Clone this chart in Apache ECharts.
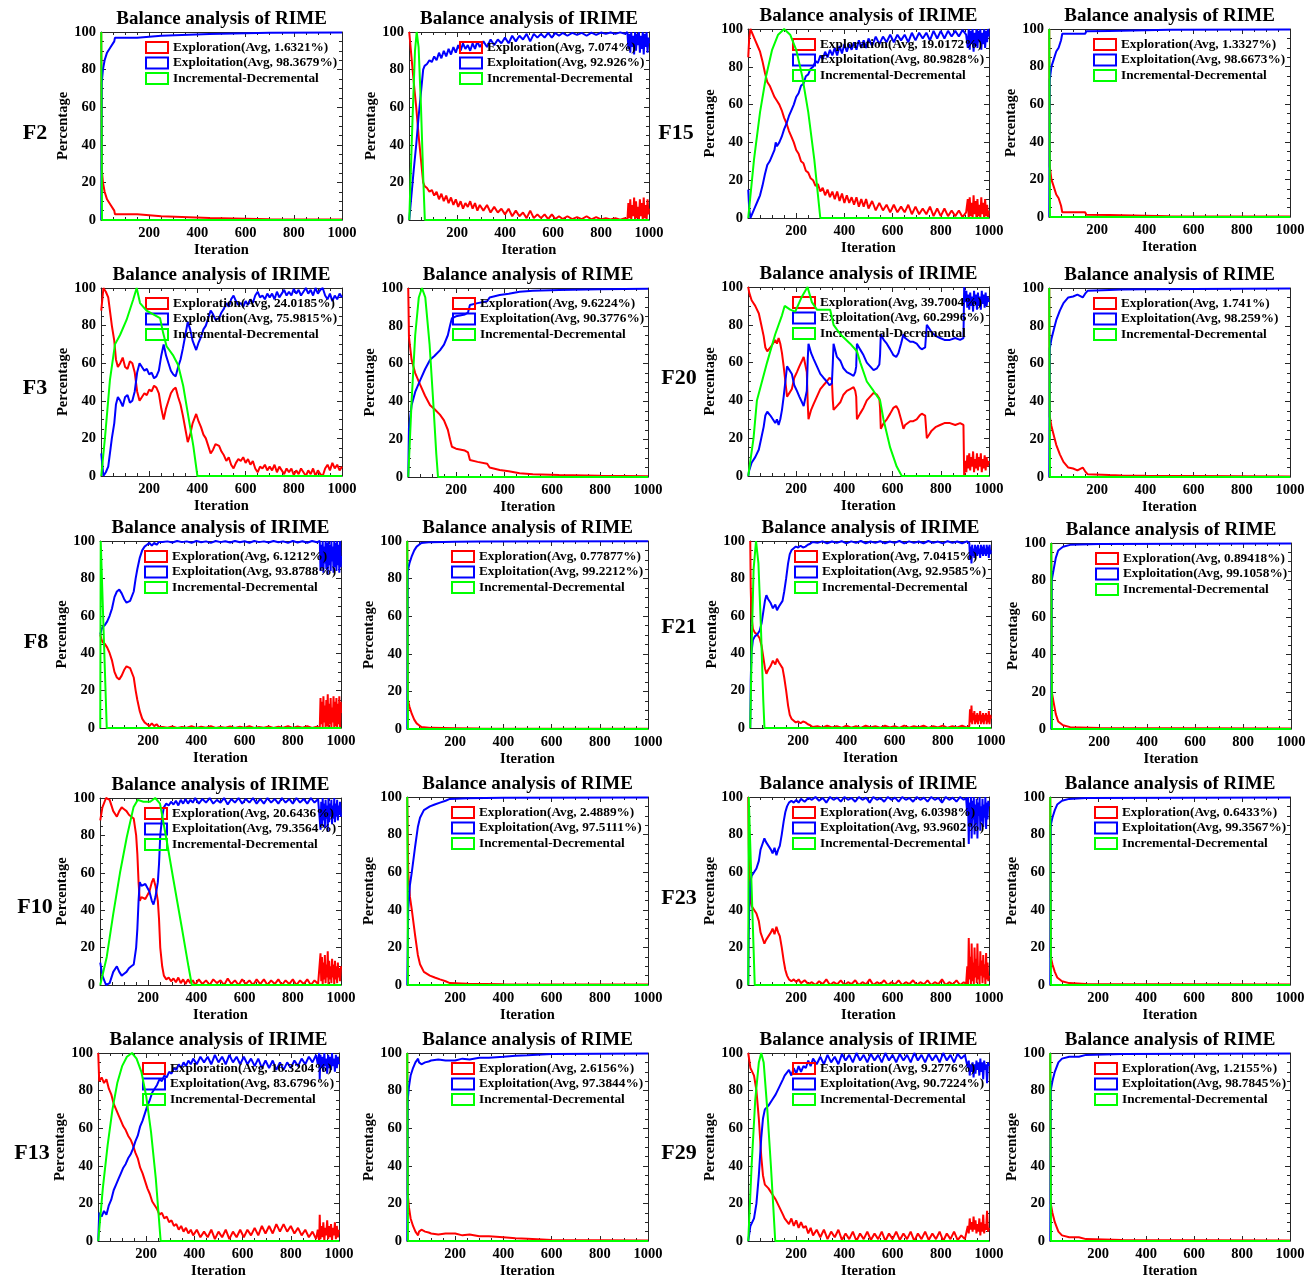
<!DOCTYPE html>
<html>
<head>
<meta charset="utf-8">
<title>Balance analysis of RIME / IRIME</title>
<script src="https://cdn.jsdelivr.net/npm/echarts@6/dist/echarts.min.js"></script>
<style>
  html, body { margin: 0; padding: 0; background: #fff; }
  #balance-chart { width: 1314px; height: 1280px; }
</style>
</head>
<body>
<div id="balance-chart"></div>
<script>
// ---- data: [iteration, percentage] ----
const xTickLabels = [200, 400, 600, 800, 1000]
const yTickLabels = [0, 20, 40, 60, 80, 100]

// panel order: row by row, left to right
const panelFunc = ['F2', 'F2', 'F15', 'F15', 'F3', 'F3', 'F20', 'F20', 'F8', 'F8', 'F21', 'F21', 'F10', 'F10', 'F23', 'F23', 'F13', 'F13', 'F29', 'F29']
const panelAlgo = ['RIME', 'IRIME', 'IRIME', 'RIME', 'IRIME', 'RIME', 'IRIME', 'RIME', 'IRIME', 'RIME', 'IRIME', 'RIME', 'IRIME', 'RIME', 'IRIME', 'RIME', 'IRIME', 'RIME', 'IRIME', 'RIME']
const avgExploration = ['1.6321', '7.074', '19.0172', '1.3327', '24.0185', '9.6224', '39.7004', '1.741', '6.1212', '0.77877', '7.0415', '0.89418', '20.6436', '2.4889', '6.0398', '0.6433', '16.3204', '2.6156', '9.2776', '1.2155']
const avgExploitation = ['98.3679', '92.926', '80.9828', '98.6673', '75.9815', '90.3776', '60.2996', '98.259', '93.8788', '99.2212', '92.9585', '99.1058', '79.3564', '97.5111', '93.9602', '99.3567', '83.6796', '97.3844', '90.7224', '98.7845']

// F2 RIME
const f2RimeXpl = [[1,100],[3,27],[8,20],[15,15],[25,11],[40,8],[55,5],[58,3],[150,3],[153,2],[250,2],[253,1.2],[450,1],[455,0.6],[700,0.4],[1000,0.2]]
const f2RimeXpt = [[1,0],[3,73],[8,80],[15,85],[25,89],[40,92],[55,95],[58,97],[150,97],[153,98],[250,98],[253,98.8],[450,99],[455,99.4],[700,99.6],[1000,99.8]]
const f2RimeInc = [[1,100],[4,0],[1000,0]]

// F2 IRIME
const f2IrimeXpl = [[1,100],[10,87],[20,73],[30,60],[40,45],[50,32],[59,20],[65,18],[75,17],[85,15],[95,16],[105,13],[115,15],[125,11],[135,14],[145,10],[155,13],[165,9],[175,12],[185,8],[195,11],[205,7],[215,10],[225,6],[235,9],[245,7],[255,10],[265,6],[275,9],[285,5],[295,8],[310,5],[325,8],[340,4],[355,7],[370,4],[385,6],[400,3],[415,6],[430,2],[445,5],[460,2],[475,4],[490,1],[505,5],[520,1],[535,3],[550,1],[565,3],[580,0.5],[595,3],[610,0.5],[625,2],[640,0.5],[660,2],[680,0.5],[700,1.5],[720,0.5],[740,2],[760,0.3],[780,1.5],[800,0.3],[820,1],[840,0.3],[860,1],[880,0.2],[900,1],[910,0],[914,9],[918,1],[922,11],[926,0],[930,8],[934,2],[938,12],[942,0],[946,10],[950,1],[954,7],[958,0],[962,11],[966,2],[970,9],[974,0],[978,12],[982,1],[986,8],[990,0],[994,11],[998,3],[1000,6]]
const f2IrimeXpt = [[1,0],[10,13],[20,27],[30,40],[40,55],[50,68],[59,80],[65,82],[75,83],[85,85],[95,84],[105,87],[115,85],[125,89],[135,86],[145,90],[155,87],[165,91],[175,88],[185,92],[195,89],[205,93],[215,90],[225,94],[235,91],[245,93],[255,90],[265,94],[275,91],[285,95],[295,92],[310,95],[325,92],[340,96],[355,93],[370,96],[385,94],[400,97],[415,94],[430,98],[445,95],[460,98],[475,96],[490,99],[505,95],[520,99],[535,97],[550,99],[565,97],[580,99.5],[595,97],[610,99.5],[625,98],[640,99.5],[660,98],[680,99.5],[700,98.5],[720,99.5],[740,98],[760,99.7],[780,98.5],[800,99.7],[820,99],[840,99.7],[860,99],[880,99.8],[900,99],[910,100],[914,91],[918,99],[922,89],[926,100],[930,92],[934,98],[938,88],[942,100],[946,90],[950,99],[954,93],[958,100],[962,89],[966,98],[970,91],[974,100],[978,88],[982,99],[986,92],[990,100],[994,89],[998,97],[1000,94]]
const f2IrimeInc = [[1,0],[15,55],[25,90],[32,100],[40,92],[50,60],[60,20],[66,0],[1000,0]]

// F15 IRIME
const f15IrimeXpl = [[1,85],[5,95],[10,100],[20,97],[30,94],[40,91],[50,88],[60,83],[70,77],[80,72],[90,70],[100,67],[110,64],[120,62],[130,60],[140,57],[150,53],[160,50],[170,46],[180,43],[190,40],[200,36],[210,34],[220,30],[230,29],[240,25],[250,24],[260,21],[270,20],[280,17],[290,18],[300,14],[310,16],[320,12],[330,15],[340,11],[350,14],[360,10],[370,14],[380,9],[390,13],[400,8],[410,12],[420,8],[430,11],[440,7],[450,11],[460,6],[470,10],[480,6],[490,10],[500,5],[515,9],[530,4],[545,8],[560,4],[575,7],[590,3],[605,7],[620,3],[635,6],[650,3],[665,7],[680,2],[695,6],[710,2],[725,5],[740,2],[755,6],[770,1],[785,5],[800,1],[815,5],[830,1],[845,4],[860,1],[875,4],[890,0.5],[905,3],[912,10],[916,0],[920,11],[924,1],[928,8],[932,0],[936,12],[940,2],[944,9],[948,0],[952,10],[956,1],[960,7],[964,0],[968,11],[972,2],[976,8],[980,0],[984,10],[988,1],[992,7],[996,0],[1000,4]]
const f15IrimeXpt = [[1,15],[5,5],[10,0],[20,3],[30,6],[40,9],[50,12],[60,17],[70,23],[80,28],[90,30],[100,33],[110,36],[115,40],[120,38],[130,40],[140,43],[150,47],[160,50],[170,54],[180,57],[190,60],[200,64],[210,66],[220,70],[230,71],[240,75],[250,76],[260,79],[270,80],[280,83],[290,82],[300,86],[310,84],[320,88],[330,85],[340,89],[350,86],[360,90],[370,86],[380,91],[390,87],[400,92],[410,88],[420,92],[430,89],[440,93],[450,89],[460,94],[470,90],[480,94],[490,90],[500,95],[515,91],[530,96],[545,92],[560,96],[575,93],[590,97],[605,93],[620,97],[635,94],[650,97],[665,93],[680,98],[695,94],[710,98],[725,95],[740,98],[755,94],[770,99],[785,95],[800,99],[815,95],[830,99],[845,96],[860,99],[875,96],[890,99.5],[905,97],[912,90],[916,100],[920,89],[924,99],[928,92],[932,100],[936,88],[940,98],[944,91],[948,100],[952,90],[956,99],[960,93],[964,100],[968,89],[972,98],[976,92],[980,100],[984,90],[988,99],[992,93],[996,100],[1000,96]]
const f15IrimeInc = [[1,0],[25,31],[50,56],[75,75],[100,89],[125,97],[150,100],[175,97],[200,89],[225,75],[250,56],[275,31],[300,0],[1000,0]]

// F15 RIME
const f15RimeXpl = [[1,100],[3,27],[10,20],[20,16],[30,12],[40,10],[50,6],[55,2.5],[100,2.5],[150,2.5],[155,1.2],[250,1],[255,0.5],[500,0.4],[1000,0.2]]
const f15RimeXpt = [[1,0],[3,73],[10,80],[20,84],[30,88],[40,90],[50,94],[55,97.5],[100,97.5],[150,97.5],[155,98.8],[250,99],[255,99.5],[500,99.6],[1000,99.8]]
const f15RimeInc = [[1,100],[4,0],[1000,0]]

// F3 IRIME
const f3IrimeXpl = [[1,88],[10,100],[20,98],[30,95],[40,85],[45,80],[55,72],[62,62],[70,58],[80,60],[90,63],[100,58],[110,57],[120,61],[130,60],[140,55],[150,45],[160,40],[170,42],[180,44],[190,43],[200,46],[210,45],[220,48],[230,47],[240,44],[250,36],[260,30],[270,36],[280,40],[290,44],[300,46],[310,47],[320,42],[330,38],[340,32],[350,25],[360,18],[370,22],[380,28],[395,33],[405,29],[415,26],[425,22],[435,20],[445,16],[455,12],[465,14],[475,17],[490,16],[500,13],[510,11],[520,8],[530,10],[540,6],[550,4],[560,7],[570,9],[580,8],[590,10],[600,7],[610,9],[620,6],[630,8],[640,4],[650,2],[660,5],[670,4],[680,6],[690,3],[700,5],[710,3],[720,6],[730,2],[740,5],[750,3],[760,1],[770,4],[780,2],[790,4],[800,0.5],[810,3],[820,1],[830,4],[840,2],[850,0],[860,3],[870,1],[880,4],[890,0],[900,3],[910,1],[920,0],[930,4],[940,6],[950,3],[960,7],[970,4],[980,6],[990,3],[1000,5]]
const f3IrimeXpt = [[1,12],[10,0],[20,2],[30,5],[40,15],[45,20],[55,28],[62,38],[70,42],[80,40],[90,37],[100,42],[110,43],[120,39],[130,40],[140,45],[150,55],[160,60],[170,58],[180,56],[190,57],[200,54],[210,55],[220,52],[230,53],[240,56],[250,64],[260,70],[270,64],[280,60],[290,56],[300,54],[310,53],[320,58],[330,62],[340,68],[350,75],[360,82],[370,78],[380,72],[395,67],[405,71],[415,74],[425,78],[435,80],[445,84],[455,88],[465,86],[475,83],[490,84],[500,87],[510,89],[520,92],[530,90],[540,94],[550,96],[560,93],[570,91],[580,92],[590,90],[600,93],[610,91],[620,94],[630,92],[640,96],[650,98],[660,95],[670,96],[680,94],[690,97],[700,95],[710,97],[720,94],[730,98],[740,95],[750,97],[760,99],[770,96],[780,98],[790,96],[800,99.5],[810,97],[820,99],[830,96],[840,98],[850,100],[860,97],[870,99],[880,96],[890,100],[900,97],[910,99],[920,100],[930,96],[940,94],[950,97],[960,93],[970,96],[980,94],[990,97],[1000,95]]
const f3IrimeInc = [[1,0],[17,21],[37,51],[58,70],[79,75],[106,83],[134,94],[148,100],[162,92],[189,88],[245,84],[258,76],[272,69],[300,64],[320,59],[341,48],[362,32],[383,16],[400,0],[1000,0]]

// F3 RIME
const f3RimeXpl = [[1,100],[4,74],[15,62],[30,55],[50,49],[71,43],[92,38],[110,36],[133,33],[150,30],[166,25],[175,20],[183,16],[200,15],[237,14],[250,13],[258,9],[290,8],[330,7],[340,5],[382,3.7],[420,3],[465,2],[520,1.5],[630,1],[800,0.6],[1000,0.4]]
const f3RimeXpt = [[1,0],[4,26],[15,38],[30,45],[50,51],[71,57],[92,62],[110,64],[133,67],[150,70],[166,75],[175,80],[183,84],[200,85],[237,86],[250,87],[258,91],[290,92],[330,93],[340,95],[382,96.3],[420,97],[465,98],[520,98.5],[630,99],[800,99.4],[1000,99.6]]
const f3RimeInc = [[1,0],[15,40],[30,75],[45,95],[58,100],[72,95],[90,70],[105,40],[118,12],[125,0],[1000,0]]

// F20 IRIME
const f20IrimeXpl = [[1,100],[5,97],[15,93],[30,90],[45,86],[55,80],[65,74],[72,68],[80,66],[93,68],[103,70],[113,72],[120,70],[127,73],[134,70],[141,65],[148,58],[155,50],[162,42],[172,44],[182,46],[192,52],[203,55],[213,58],[224,61],[231,63],[238,62],[244,55],[248,38],[251,30],[262,35],[272,38],[286,42],[300,46],[313,48],[327,50],[338,52],[348,51],[352,40],[355,35],[369,37],[383,39],[396,43],[410,45],[424,46],[438,47],[445,45],[449,42],[452,30],[465,33],[479,36],[493,40],[507,42],[521,44],[535,43],[545,41],[548,36],[551,25],[563,28],[576,30],[590,33],[603,36],[615,37],[624,35],[635,30],[645,25],[652,27],[660,28],[673,29],[686,29],[700,30],[712,32],[721,33],[735,32],[742,20],[752,22],[762,24],[780,26],[797,27],[815,28],[838,28],[860,27],[880,28],[894,27],[897,0],[902,8],[906,2],[910,11],[914,4],[918,12],[922,3],[926,10],[930,5],[934,13],[938,2],[942,9],[946,4],[950,12],[954,3],[958,10],[962,5],[966,12],[970,2],[974,9],[978,4],[982,11],[986,3],[990,10],[994,5],[1000,8]]
const f20IrimeXpt = [[1,0],[5,3],[15,7],[30,10],[45,14],[55,20],[65,26],[72,32],[80,34],[93,32],[103,30],[113,28],[120,30],[127,27],[134,30],[141,35],[148,42],[155,50],[162,58],[172,56],[182,54],[192,48],[203,45],[213,42],[224,39],[231,37],[238,38],[244,45],[248,62],[251,70],[262,65],[272,62],[286,58],[300,54],[313,52],[327,50],[338,48],[348,49],[352,60],[355,70],[369,63],[383,61],[396,57],[410,55],[424,54],[438,53],[445,55],[449,58],[452,70],[465,67],[479,64],[493,60],[507,58],[521,56],[535,57],[545,59],[548,64],[551,75],[563,72],[576,70],[590,67],[603,64],[615,63],[624,65],[635,70],[645,75],[652,73],[660,72],[673,71],[686,71],[700,70],[712,68],[721,67],[735,68],[742,80],[752,78],[762,76],[780,74],[797,73],[815,72],[838,72],[860,73],[880,72],[894,73],[897,100],[902,92],[906,98],[910,89],[914,96],[918,88],[922,97],[926,90],[930,95],[934,87],[938,98],[942,91],[946,96],[950,88],[954,97],[958,90],[962,95],[966,88],[970,98],[974,91],[978,96],[982,89],[986,97],[990,90],[994,95],[1000,92]]
const f20IrimeInc = [[1,0],[23,20],[37,40],[58,50],[79,60],[113,75],[141,85],[152,90],[175,88],[196,87],[224,95],[247,100],[265,92],[286,88],[341,88],[355,80],[383,75],[424,70],[452,66],[466,60],[493,50],[521,45],[548,40],[562,30],[590,15],[617,5],[638,0],[1000,0]]

// F20 RIME
const f20RimeXpl = [[1,100],[3,32],[10,27],[20,22],[30,17],[45,12],[60,8],[80,5],[100,4.5],[118,3.5],[125,4.5],[140,5],[150,3],[160,1.5],[250,1],[300,0.8],[400,0.6],[1000,0.3]]
const f20RimeXpt = [[1,0],[3,68],[10,73],[20,78],[30,83],[45,88],[60,92],[80,95],[100,95.5],[118,96.5],[125,95.5],[140,95],[150,97],[160,98.5],[250,99],[300,99.2],[400,99.4],[1000,99.7]]
const f20RimeInc = [[1,100],[4,0],[1000,0]]

// F8 IRIME
const f8IrimeXpl = [[1,50],[5,48],[10,46],[20,45],[30,43],[40,40],[50,36],[60,30],[70,27],[80,26],[90,28],[100,31],[110,33],[118,34],[125,32],[132,31],[140,27],[148,20],[155,15],[165,9],[175,5],[185,3],[195,2],[205,1],[215,2.5],[225,1],[235,2],[245,0.5],[260,0.5],[280,0.2],[300,0.8],[320,0],[340,0.6],[360,0.2],[380,0.9],[400,0],[420,0.7],[440,0.2],[460,1],[480,0],[500,0.6],[520,0.1],[540,0.8],[560,0],[580,0.7],[600,0.1],[620,0.9],[640,0],[660,0.6],[680,0.2],[700,0.8],[720,0],[740,0.7],[760,0.2],[780,1],[800,0],[820,0.8],[840,0.1],[860,0.9],[880,0],[900,0.7],[912,0],[915,16],[918,2],[921,14],[924,0],[927,17],[930,3],[933,12],[936,0],[939,15],[942,1],[945,18],[948,0],[951,13],[954,2],[957,16],[960,0],[963,11],[966,3],[969,17],[972,0],[975,14],[978,1],[981,16],[984,0],[987,13],[990,2],[993,17],[996,0],[999,14],[1000,8]]
const f8IrimeXpt = [[1,50],[5,52],[10,54],[20,55],[30,57],[40,60],[50,64],[60,70],[70,73],[80,74],[90,72],[100,69],[110,67],[118,66],[125,68],[132,69],[140,73],[148,80],[155,85],[165,91],[175,95],[185,97],[195,98],[205,99],[215,97.5],[225,99],[235,98],[245,99.5],[260,99.5],[280,99.8],[300,99.2],[320,100],[340,99.4],[360,99.8],[380,99.1],[400,100],[420,99.3],[440,99.8],[460,99],[480,100],[500,99.4],[520,99.9],[540,99.2],[560,100],[580,99.3],[600,99.9],[620,99.1],[640,100],[660,99.4],[680,99.8],[700,99.2],[720,100],[740,99.3],[760,99.8],[780,99],[800,100],[820,99.2],[840,99.9],[860,99.1],[880,100],[900,99.3],[912,100],[915,84],[918,98],[921,86],[924,100],[927,83],[930,97],[933,88],[936,100],[939,85],[942,99],[945,82],[948,100],[951,87],[954,98],[957,84],[960,100],[963,89],[966,97],[969,83],[972,100],[975,86],[978,99],[981,84],[984,100],[987,87],[990,98],[993,83],[996,100],[999,86],[1000,92]]
const f8IrimeInc = [[1,0],[3,100],[28,0],[1000,0]]

// F8 RIME
const f8RimeXpl = [[1,100],[3,16],[10,12],[20,8],[30,5],[40,3],[50,2],[60,1],[100,0.6],[200,0.4],[300,0.2],[1000,0.1]]
const f8RimeXpt = [[1,0],[3,84],[10,88],[20,92],[30,95],[40,97],[50,98],[60,99],[100,99.4],[200,99.6],[300,99.8],[1000,99.9]]
const f8RimeInc = [[1,100],[4,0],[1000,0]]

// F21 IRIME
const f21IrimeXpl = [[1,100],[3,75],[6,60],[12,53],[20,51],[30,50],[40,48],[48,44],[55,38],[62,32],[68,29],[75,31],[85,33],[95,36],[105,34],[112,37],[120,35],[128,36],[135,32],[142,27],[150,20],[158,12],[165,7],[172,5],[180,4],[190,3],[200,3.5],[210,2.5],[220,3.5],[230,3],[240,2],[250,1.5],[260,0.5],[280,1],[300,0.2],[320,1.2],[340,0.3],[360,1],[380,0.1],[400,1.3],[420,0.2],[440,1],[460,0],[480,1.2],[500,0.3],[520,1],[540,0.1],[560,1.2],[580,0.3],[600,1],[620,0],[640,1.3],[660,0.2],[680,1],[700,0.3],[720,1.2],[740,0],[760,1],[780,0.3],[800,1.3],[820,0.1],[840,1],[860,0.3],[880,1.2],[900,0.2],[910,1],[913,10],[916,3],[919,12],[922,2],[925,8],[928,4],[931,9],[934,2],[937,7],[940,3],[943,8],[946,2],[949,7],[952,4],[955,9],[958,2],[961,7],[964,3],[967,8],[970,2],[973,7],[976,4],[979,8],[982,2],[985,7],[988,3],[991,9],[994,2],[997,7],[1000,5]]
const f21IrimeXpt = [[1,0],[3,25],[6,40],[12,47],[20,49],[30,50],[40,52],[48,56],[55,62],[62,68],[68,71],[75,69],[85,67],[95,64],[105,66],[112,63],[120,65],[128,64],[135,68],[142,73],[150,80],[158,88],[165,93],[172,95],[180,96],[190,97],[200,96.5],[210,97.5],[220,96.5],[230,97],[240,98],[250,98.5],[260,99.5],[280,99],[300,99.8],[320,98.8],[340,99.7],[360,99],[380,99.9],[400,98.7],[420,99.8],[440,99],[460,100],[480,98.8],[500,99.7],[520,99],[540,99.9],[560,98.8],[580,99.7],[600,99],[620,100],[640,98.7],[660,99.8],[680,99],[700,99.7],[720,98.8],[740,100],[760,99],[780,99.7],[800,98.7],[820,99.9],[840,99],[860,99.7],[880,98.8],[900,99.8],[910,99],[913,90],[916,97],[919,88],[922,98],[925,92],[928,96],[931,91],[934,98],[937,93],[940,97],[943,92],[946,98],[949,93],[952,96],[955,91],[958,98],[961,93],[964,97],[967,92],[970,98],[973,93],[976,96],[979,92],[982,98],[985,93],[988,97],[991,91],[994,98],[997,93],[1000,95]]
const f21IrimeInc = [[1,0],[8,50],[15,85],[25,100],[35,88],[45,55],[55,15],[60,0],[1000,0]]

// F21 RIME
const f21RimeXpl = [[1,100],[3,20],[10,15],[20,8],[30,4],[50,2],[80,1],[200,0.5],[1000,0.3]]
const f21RimeXpt = [[1,0],[3,80],[10,85],[20,92],[30,96],[50,98],[80,99],[200,99.5],[1000,99.7]]
const f21RimeInc = [[1,100],[4,0],[1000,0]]

// F10 IRIME
const f10IrimeXpl = [[1,88],[10,95],[25,100],[40,99],[55,93],[70,90],[80,93],[90,95],[100,94],[110,93],[120,91],[130,90],[140,89],[145,88],[150,80],[155,70],[160,55],[165,45],[172,47],[180,48],[188,46],[195,45],[205,50],[215,55],[222,57],[230,53],[240,45],[245,35],[250,20],[258,10],[265,5],[275,3],[285,4],[295,2],[305,3.5],[315,1.5],[325,4],[335,1],[345,3],[355,0.5],[365,3],[375,1],[385,2.5],[395,0],[410,3],[425,0.5],[440,2.5],[455,0],[470,3],[485,1],[500,2.5],[515,0],[530,3.5],[545,0.5],[560,2.5],[575,0],[590,3],[605,0.5],[620,2.5],[635,0],[650,3],[665,0.5],[680,3],[695,0],[710,2.5],[725,0.5],[740,3],[755,0],[770,2.5],[785,0.5],[800,3],[815,0],[830,2.5],[845,0.5],[860,3],[875,0],[890,2.5],[905,0.5],[912,0],[915,17],[918,2],[921,15],[924,0],[927,12],[930,3],[933,16],[936,1],[939,11],[942,4],[945,18],[948,0],[951,13],[954,3],[957,10],[960,1],[963,14],[966,4],[969,11],[972,0],[975,13],[978,3],[981,10],[984,1],[987,12],[990,4],[993,9],[996,2],[1000,10]]
const f10IrimeXpt = [[1,12],[10,5],[25,0],[40,1],[55,7],[70,10],[80,7],[90,5],[100,6],[110,7],[120,9],[130,10],[140,11],[145,12],[150,20],[155,30],[160,45],[165,55],[172,53],[180,52],[188,54],[195,55],[205,50],[215,45],[222,43],[230,47],[240,55],[245,65],[250,80],[258,90],[265,95],[275,97],[285,96],[295,98],[305,96.5],[315,98.5],[325,96],[335,99],[345,97],[355,99.5],[365,97],[375,99],[385,97.5],[395,100],[410,97],[425,99.5],[440,97.5],[455,100],[470,97],[485,99],[500,97.5],[515,100],[530,96.5],[545,99.5],[560,97.5],[575,100],[590,97],[605,99.5],[620,97.5],[635,100],[650,97],[665,99.5],[680,97],[695,100],[710,97.5],[725,99.5],[740,97],[755,100],[770,97.5],[785,99.5],[800,97],[815,100],[830,97.5],[845,99.5],[860,97],[875,100],[890,97.5],[905,99.5],[912,100],[915,83],[918,98],[921,85],[924,100],[927,88],[930,97],[933,84],[936,99],[939,89],[942,96],[945,82],[948,100],[951,87],[954,97],[957,90],[960,99],[963,86],[966,96],[969,89],[972,100],[975,87],[978,97],[981,90],[984,99],[987,88],[990,96],[993,91],[996,98],[1000,90]]
const f10IrimeInc = [[1,0],[28,15],[55,38],[83,60],[111,79],[139,95],[157,99],[180,98],[208,98],[229,100],[249,97],[277,77],[305,56],[339,31],[367,10],[381,0],[1000,0]]

// F10 RIME
const f10RimeXpl = [[1,100],[5,60],[12,47],[20,40],[33,27],[45,16],[54,11],[70,7],[95,5],[115,4],[137,3],[160,2],[178,1],[250,0.6],[400,0.4],[1000,0.2]]
const f10RimeXpt = [[1,0],[5,40],[12,53],[20,60],[33,73],[45,84],[54,89],[70,93],[95,95],[115,96],[137,97],[160,98],[178,99],[250,99.4],[400,99.6],[1000,99.8]]
const f10RimeInc = [[1,100],[4,0],[1000,0]]

// F23 IRIME
const f23IrimeXpl = [[1,100],[3,75],[6,55],[10,45],[15,42],[25,40],[35,38],[45,34],[52,28],[60,25],[68,22],[75,24],[85,26],[95,28],[102,30],[110,27],[118,31],[125,28],[132,26],[140,20],[148,13],[155,8],[162,5],[170,3],[180,2],[190,3],[200,1.5],[210,3],[220,1],[235,2.5],[250,0.5],[265,1.5],[280,0],[295,2],[310,0.5],[325,3],[340,0],[355,1.5],[370,0.3],[385,2.5],[400,0],[415,1.5],[430,0.5],[445,2.5],[460,0],[475,1.5],[490,0.3],[505,3],[520,0],[535,1.5],[550,0.5],[565,2.5],[580,0],[595,1.5],[610,0.3],[625,2.5],[640,0],[655,1.5],[670,0.5],[685,2.5],[700,0],[715,1.5],[730,0.3],[745,2.5],[760,0],[775,1.5],[790,0.5],[805,3],[820,0],[835,1.5],[850,0.3],[865,2.5],[880,0],[895,1.5],[905,0.5],[910,10],[913,0],[916,25],[919,3],[922,15],[925,0],[928,22],[931,2],[934,12],[937,0],[940,20],[943,4],[946,14],[949,1],[952,22],[955,3],[958,10],[961,0],[964,18],[967,5],[970,13],[973,1],[976,16],[979,4],[982,11],[985,0],[988,17],[991,3],[994,12],[997,2],[1000,5]]
const f23IrimeXpt = [[1,0],[3,25],[6,45],[10,55],[15,58],[25,60],[35,62],[45,66],[52,72],[60,75],[68,78],[75,76],[85,74],[95,72],[102,70],[110,73],[118,69],[125,72],[132,74],[140,80],[148,87],[155,92],[162,95],[170,97],[180,98],[190,97],[200,98.5],[210,97],[220,99],[235,97.5],[250,99.5],[265,98.5],[280,100],[295,98],[310,99.5],[325,97],[340,100],[355,98.5],[370,99.7],[385,97.5],[400,100],[415,98.5],[430,99.5],[445,97.5],[460,100],[475,98.5],[490,99.7],[505,97],[520,100],[535,98.5],[550,99.5],[565,97.5],[580,100],[595,98.5],[610,99.7],[625,97.5],[640,100],[655,98.5],[670,99.5],[685,97.5],[700,100],[715,98.5],[730,99.7],[745,97.5],[760,100],[775,98.5],[790,99.5],[805,97],[820,100],[835,98.5],[850,99.7],[865,97.5],[880,100],[895,98.5],[905,99.5],[910,90],[913,100],[916,75],[919,97],[922,85],[925,100],[928,78],[931,98],[934,88],[937,100],[940,80],[943,96],[946,86],[949,99],[952,78],[955,97],[958,90],[961,100],[964,82],[967,95],[970,87],[973,99],[976,84],[979,96],[982,89],[985,100],[988,83],[991,97],[994,88],[997,98],[1000,95]]
const f23IrimeInc = [[1,0],[3,100],[28,0],[1000,0]]

// F23 RIME
const f23RimeXpl = [[1,100],[3,15],[10,11],[20,7],[30,4],[50,2],[80,1],[150,0.5],[1000,0.3]]
const f23RimeXpt = [[1,0],[3,85],[10,89],[20,93],[30,96],[50,98],[80,99],[150,99.5],[1000,99.7]]
const f23RimeInc = [[1,100],[4,0],[1000,0]]

// F13 IRIME
const f13IrimeXpl = [[1,100],[5,85],[15,87],[25,84],[35,86],[45,81],[55,78],[65,73],[75,70],[85,67],[95,64],[105,61],[115,59],[125,56],[135,54],[145,51],[155,47],[165,44],[175,39],[185,36],[195,32],[205,28],[215,25],[225,21],[235,19],[245,17],[255,14],[265,15],[275,12],[285,13],[295,10],[305,11],[315,8],[325,9],[335,6],[345,8],[355,5],[365,7],[375,4],[385,6],[395,3],[410,6],[425,2],[440,5],[455,2],[470,6],[485,1],[500,5],[515,2],[530,6],[545,1],[560,5],[575,2],[590,6],[605,2],[620,6],[635,3],[650,7],[665,3],[680,8],[695,4],[710,8],[725,4],[740,9],[755,5],[770,9],[785,5],[800,8],[815,4],[830,7],[845,3],[860,6],[875,2],[890,5],[905,1],[912,6],[918,0],[920,14],[923,1],[927,8],[931,2],[935,10],[939,0],[943,7],[947,3],[951,11],[955,1],[959,8],[963,2],[967,9],[971,0],[975,7],[979,3],[983,10],[987,1],[991,8],[995,2],[1000,6]]
const f13IrimeXpt = [[1,0],[5,15],[15,13],[25,16],[35,14],[45,19],[55,22],[65,27],[75,30],[85,33],[95,36],[105,39],[115,41],[125,44],[135,46],[145,49],[155,53],[165,56],[175,61],[185,64],[195,68],[205,72],[215,75],[225,79],[235,81],[245,83],[255,86],[265,85],[275,88],[285,87],[295,90],[305,89],[315,92],[325,91],[335,94],[345,92],[355,95],[365,93],[375,96],[385,94],[395,97],[410,94],[425,98],[440,95],[455,98],[470,94],[485,99],[500,95],[515,98],[530,94],[545,99],[560,95],[575,98],[590,94],[605,98],[620,94],[635,97],[650,93],[665,97],[680,92],[695,96],[710,92],[725,96],[740,91],[755,95],[770,91],[785,95],[800,92],[815,96],[830,93],[845,97],[860,94],[875,98],[890,95],[905,99],[912,94],[918,100],[920,86],[923,99],[927,92],[931,98],[935,90],[939,100],[943,93],[947,97],[951,89],[955,99],[959,92],[963,98],[967,91],[971,100],[975,93],[979,97],[983,90],[987,99],[991,92],[995,98],[1000,94]]
const f13IrimeInc = [[1,0],[20,28],[40,51],[60,70],[80,84],[100,93],[120,98],[141,100],[160,97],[180,90],[200,77],[220,58],[240,33],[260,0],[1000,0]]

// F13 RIME
const f13RimeXpl = [[1,100],[3,25],[8,18],[15,12],[25,8],[35,5],[46,3],[50,5],[60,6],[75,5],[90,4.5],[100,4],[130,3.5],[160,4],[200,4],[205,3],[230,3],[260,3.5],[300,2.5],[340,2.5],[400,2],[450,1.5],[500,1.2],[560,0.8],[600,0.5],[1000,0.3]]
const f13RimeXpt = [[1,0],[3,75],[8,82],[15,88],[25,92],[35,95],[46,97],[50,95],[60,94],[75,95],[90,95.5],[100,96],[130,96.5],[160,96],[200,96],[205,97],[230,97],[260,96.5],[300,97.5],[340,97.5],[400,98],[450,98.5],[500,98.8],[560,99.2],[600,99.5],[1000,99.7]]
const f13RimeInc = [[1,100],[4,0],[1000,0]]

// F29 IRIME
const f29IrimeXpl = [[1,100],[10,92],[25,88],[35,80],[45,65],[55,45],[62,35],[70,30],[78,31],[85,28],[92,29],[100,25],[108,26],[115,22],[122,23],[130,18],[138,19],[145,14],[152,12],[160,13],[170,9],[180,12],[190,8],[200,11],[210,7],[220,10],[230,7],[240,8],[250,4],[260,7],[270,3],[285,6],[300,2],[315,6],[330,1],[345,5],[360,2],[375,6],[390,0.5],[405,4],[420,1],[435,5],[450,0],[465,4],[480,1],[495,5],[510,0.5],[525,4],[540,1],[555,5],[570,0],[585,4],[600,1],[615,5],[630,0.5],[645,4],[660,1],[675,5],[690,0],[705,4],[720,1],[735,5],[750,0.5],[765,4],[780,1],[795,5],[810,0],[825,4],[840,1],[855,5],[870,0.5],[885,3],[900,1],[908,2],[912,8],[916,4],[920,12],[924,6],[928,10],[932,5],[936,13],[940,6],[944,11],[948,4],[952,9],[956,5],[960,12],[964,3],[968,10],[972,5],[976,14],[980,4],[984,9],[988,6],[992,16],[996,5],[1000,7]]
const f29IrimeXpt = [[1,0],[10,8],[25,12],[35,20],[45,35],[55,55],[62,65],[70,70],[78,69],[85,72],[92,71],[100,75],[108,74],[115,78],[122,77],[130,82],[138,81],[145,86],[152,88],[160,87],[170,91],[180,88],[190,92],[200,89],[210,93],[220,90],[230,93],[240,92],[250,96],[260,93],[270,97],[285,94],[300,98],[315,94],[330,99],[345,95],[360,98],[375,94],[390,99.5],[405,96],[420,99],[435,95],[450,100],[465,96],[480,99],[495,95],[510,99.5],[525,96],[540,99],[555,95],[570,100],[585,96],[600,99],[615,95],[630,99.5],[645,96],[660,99],[675,95],[690,100],[705,96],[720,99],[735,95],[750,99.5],[765,96],[780,99],[795,95],[810,100],[825,96],[840,99],[855,95],[870,99.5],[885,97],[900,99],[908,98],[912,92],[916,96],[920,88],[924,94],[928,90],[932,95],[936,87],[940,94],[944,89],[948,96],[952,91],[956,95],[960,88],[964,97],[968,90],[972,95],[976,86],[980,96],[984,91],[988,94],[992,84],[996,95],[1000,93]]
const f29IrimeInc = [[1,0],[15,40],[30,75],[45,95],[55,100],[65,95],[80,70],[95,40],[105,18],[113,0],[1000,0]]

// F29 RIME
const f29RimeXpl = [[1,100],[3,20],[10,15],[20,10],[35,5],[50,3],[80,2],[120,2],[125,1.2],[150,1],[300,0.5],[1000,0.3]]
const f29RimeXpt = [[1,0],[3,80],[10,85],[20,90],[35,95],[50,97],[80,98],[120,98],[125,98.8],[150,99],[300,99.5],[1000,99.7]]
const f29RimeInc = [[1,100],[4,0],[1000,0]]

const explorationSeries = [f2RimeXpl, f2IrimeXpl, f15IrimeXpl, f15RimeXpl, f3IrimeXpl, f3RimeXpl, f20IrimeXpl, f20RimeXpl, f8IrimeXpl, f8RimeXpl, f21IrimeXpl, f21RimeXpl, f10IrimeXpl, f10RimeXpl, f23IrimeXpl, f23RimeXpl, f13IrimeXpl, f13RimeXpl, f29IrimeXpl, f29RimeXpl]
const exploitationSeries = [f2RimeXpt, f2IrimeXpt, f15IrimeXpt, f15RimeXpt, f3IrimeXpt, f3RimeXpt, f20IrimeXpt, f20RimeXpt, f8IrimeXpt, f8RimeXpt, f21IrimeXpt, f21RimeXpt, f10IrimeXpt, f10RimeXpt, f23IrimeXpt, f23RimeXpt, f13IrimeXpt, f13RimeXpt, f29IrimeXpt, f29RimeXpt]
const incDecSeries = [f2RimeInc, f2IrimeInc, f15IrimeInc, f15RimeInc, f3IrimeInc, f3RimeInc, f20IrimeInc, f20RimeInc, f8IrimeInc, f8RimeInc, f21IrimeInc, f21RimeInc, f10IrimeInc, f10RimeInc, f23IrimeInc, f23RimeInc, f13IrimeInc, f13RimeInc, f29IrimeInc, f29RimeInc]

// row labels at the side of each pair of panels
const rowLabels = ['F2', 'F15', 'F3', 'F20', 'F8', 'F21', 'F10', 'F23', 'F13', 'F29']

// ---- layout (pixels) ----
const plotBox = [
  [101, 32, 241, 188], [409, 32, 240, 188], [748, 29, 241, 189], [1049, 29, 241, 188],
  [101, 288, 241, 188], [408, 288, 240, 189], [748, 287, 241, 189], [1049, 288, 241, 189],
  [100, 541, 241, 187], [407, 541, 241, 188], [750, 541, 241, 187], [1051, 543, 240, 186],
  [100, 798, 241, 187], [407, 797, 241, 188], [748, 797, 241, 188], [1050, 797, 240, 188],
  [98, 1053, 241, 188], [407, 1053, 241, 188], [748, 1053, 241, 188], [1050, 1053, 240, 188]
]
const rowLabelPos = [[35, 133], [676, 133], [35, 388], [679, 378], [36, 642], [679, 627], [35, 907], [679, 898], [32, 1153], [679, 1153]]

const FONT = '"Liberation Serif", "Times New Roman", serif'
const RED = '#ff0000'
const BLUE = '#0000ff'
const GREEN = '#00ff00'
const AXIS = '#262626'

function axisText (size) {
  return { fontFamily: FONT, fontWeight: 'bold', fontSize: size, color: '#000' }
}

function buildOption () {
  const grid = []
  const xAxis = []
  const yAxis = []
  const series = []
  const legend = []
  const graphic = []

  panelFunc.forEach((fn, i) => {
    const [L, T, W, H] = plotBox[i]
    grid.push({ left: L, top: T, width: W, height: H, containLabel: false, outerBoundsMode: 'none' })

    const common = {
      type: 'value',
      gridIndex: i,
      splitLine: { show: false },
      axisLine: { show: true, onZero: false, lineStyle: { color: AXIS, width: 1 } },
      axisTick: { show: true, inside: true, length: 5, lineStyle: { color: AXIS } },
      minorTick: { show: true, splitNumber: 4, length: 3, lineStyle: { color: AXIS } }
    }
    xAxis.push(Object.assign({}, common, {
      position: 'bottom', min: 0, max: 1000, interval: 200,
      axisLabel: {
        margin: 6,
        formatter: v => (xTickLabels.indexOf(v) >= 0 ? String(v) : ''),
        ...axisText(14.5)
      },
      name: 'Iteration', nameLocation: 'middle', nameGap: 23,
      nameTextStyle: axisText(14.5)
    }))
    xAxis.push(Object.assign({}, common, {
      position: 'top', min: 0, max: 1000, interval: 200, axisLabel: { show: false }
    }))
    yAxis.push(Object.assign({}, common, {
      position: 'left', min: 0, max: 100, interval: 20,
      axisLabel: {
        margin: 5,
        formatter: v => (yTickLabels.indexOf(v) >= 0 ? String(v) : ''),
        ...axisText(14.5)
      },
      name: 'Percentage', nameLocation: 'middle', nameGap: 29,
      nameTextStyle: axisText(14.5)
    }))
    yAxis.push(Object.assign({}, common, {
      position: 'right', min: 0, max: 100, interval: 20, axisLabel: { show: false }
    }))

    const nameXpl = 'Exploration(Avg, ' + avgExploration[i] + '%)'
    const nameXpt = 'Exploitation(Avg, ' + avgExploitation[i] + '%)'
    const nameInc = 'Incremental-Decremental'
    const lineSeries = (name, data, color, z) => ({
      type: 'line', name, data,
      xAxisIndex: 2 * i, yAxisIndex: 2 * i,
      symbol: 'none', showSymbol: false, silent: true, animation: false,
      lineStyle: { width: 2, color }, itemStyle: { color }, z
    })
    series.push(lineSeries(nameXpl, explorationSeries[i], RED, 2))
    series.push(lineSeries(nameXpt, exploitationSeries[i], BLUE, 3))
    series.push(lineSeries(nameInc, incDecSeries[i], GREEN, 4))

    const box = color => ({ color: 'rgba(0,0,0,0)', borderColor: color, borderWidth: 2 })
    legend.push({
      left: L + (i === 1 ? 50 : 44), top: T + 9,
      orient: 'vertical', padding: 0, itemGap: 2.5, itemWidth: 22, itemHeight: 11,
      selectedMode: false,
      textStyle: Object.assign(axisText(13.3), { lineHeight: 13 }),
      data: [
        { name: nameXpl, icon: 'rect', itemStyle: box(RED) },
        { name: nameXpt, icon: 'rect', itemStyle: box(BLUE) },
        { name: nameInc, icon: 'rect', itemStyle: box(GREEN) }
      ]
    })

    graphic.push({
      type: 'text', x: L + W / 2, y: T - 12.5, silent: true,
      style: {
        text: 'Balance analysis of ' + panelAlgo[i], fill: '#000',
        fontFamily: FONT, fontWeight: 'bold', fontSize: 19,
        align: 'center', verticalAlign: 'middle'
      }
    })
  })

  rowLabels.forEach((label, k) => {
    graphic.push({
      type: 'text', x: rowLabelPos[k][0], y: rowLabelPos[k][1], silent: true,
      style: {
        text: label, fill: '#000', fontFamily: FONT, fontWeight: 'bold', fontSize: 22,
        align: 'center', verticalAlign: 'middle'
      }
    })
  })

  return { animation: false, backgroundColor: '#fff', grid, xAxis, yAxis, series, legend, graphic }
}

const myChart = echarts.init(document.getElementById('balance-chart'), null, { renderer: 'canvas' })
myChart.setOption(buildOption())
window.addEventListener('resize', () => myChart.resize())
</script>
</body>
</html>
